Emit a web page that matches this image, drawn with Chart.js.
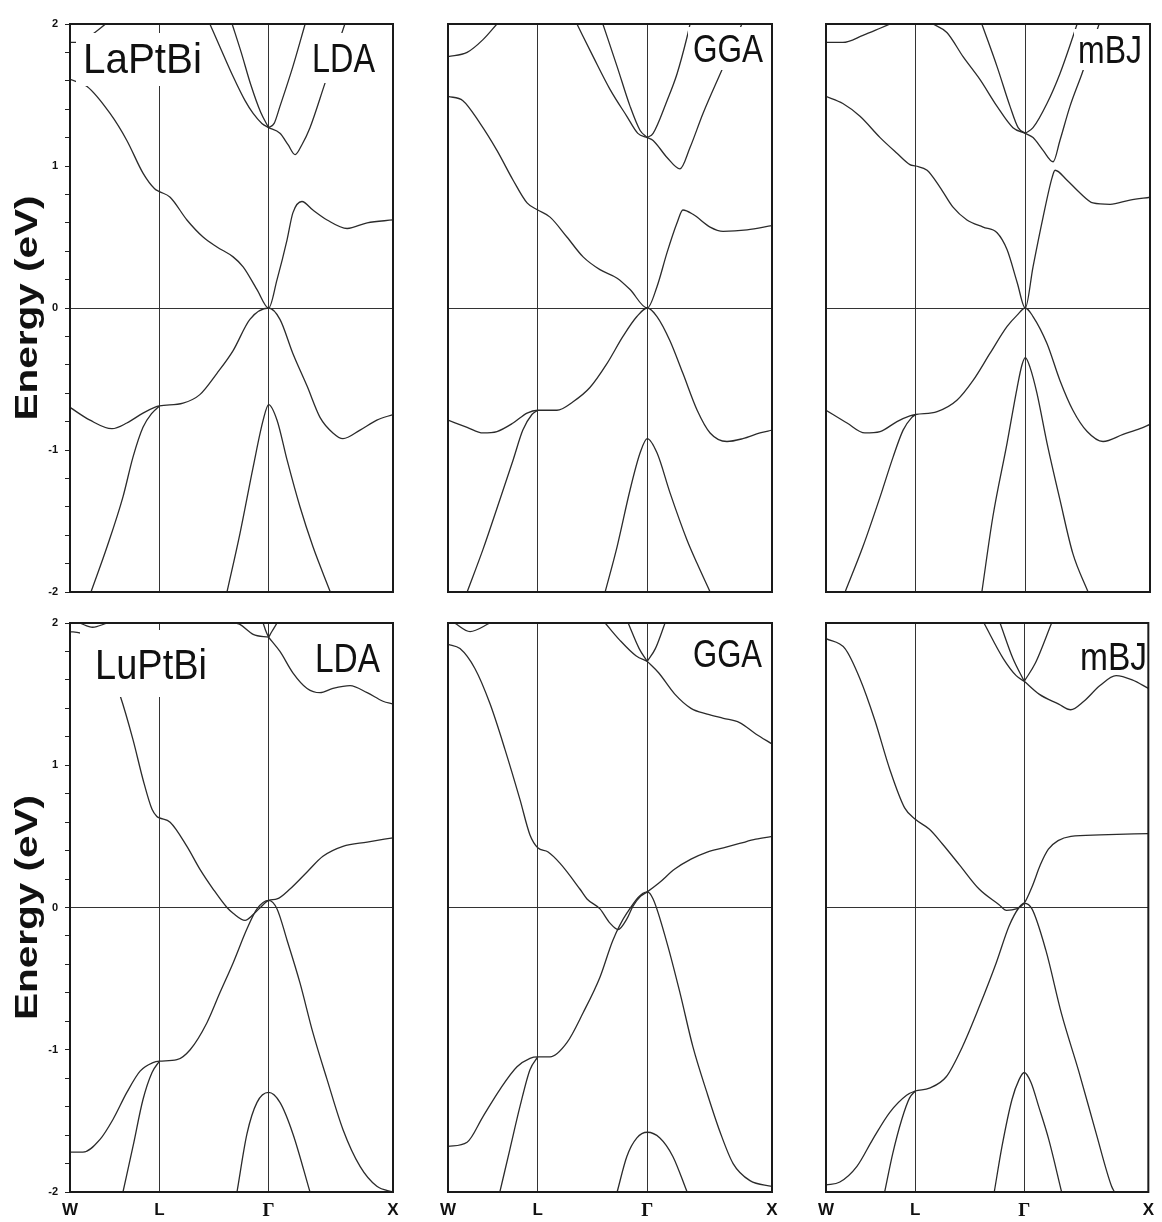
<!DOCTYPE html>
<html>
<head>
<meta charset="utf-8">
<script src="https://cdn.jsdelivr.net/npm/chart.js@4.4.1/dist/chart.umd.min.js"></script>
<style>
  body { margin: 0; background: #fff; }
  #fig { position: relative; width: 1162px; height: 1222px; overflow: hidden; }
  #fig canvas { position: absolute; }
</style>
</head>
<body>
<div id="fig"></div>
<script>
// high-symmetry path W - L - Γ - X (fractional path length)
const K_POINTS = [0, 0.277, 0.615, 1];
const K_LABELS = ['W', 'L', 'Γ', 'X'];

// bands are [k, E(eV)] pairs, Fermi level at 0
const laLda = [
  [[0,1.61],[0.053,1.56],[0.124,1.37],[0.176,1.18],[0.226,0.95],[0.262,0.84],[0.277,0.82],[0.31,0.78],[0.362,0.62],[0.412,0.50],[0.455,0.43],[0.505,0.36],[0.536,0.29],[0.579,0.13],[0.615,0],[0.641,0.2],[0.672,0.48],[0.69,0.67],[0.718,0.75],[0.752,0.69],[0.796,0.62],[0.858,0.56],[0.92,0.6],[1,0.62]],
  [[0,-0.70],[0.062,-0.79],[0.130,-0.85],[0.176,-0.81],[0.226,-0.74],[0.262,-0.70],[0.277,-0.69],[0.350,-0.67],[0.402,-0.61],[0.455,-0.46],[0.505,-0.30],[0.557,-0.08],[0.615,0],[0.65,-0.08],[0.69,-0.32],[0.734,-0.55],[0.774,-0.77],[0.814,-0.88],[0.845,-0.92],[0.898,-0.86],[0.95,-0.79],[1,-0.75]],
  [[0.065,-2.0],[0.115,-1.68],[0.164,-1.33],[0.195,-1.05],[0.226,-0.84],[0.254,-0.74],[0.277,-0.69]],
  [[0.486,-2.0],[0.526,-1.59],[0.567,-1.12],[0.598,-0.79],[0.615,-0.68],[0.641,-0.79],[0.672,-1.07],[0.712,-1.40],[0.752,-1.68],[0.806,-2.0]],
  [[0.433,2.0],[0.464,1.84],[0.505,1.63],[0.542,1.46],[0.567,1.37],[0.594,1.30],[0.615,1.27]],
  [[0.502,2.0],[0.53,1.80],[0.56,1.57],[0.59,1.38],[0.615,1.27]],
  [[0.615,1.27],[0.632,1.30],[0.65,1.42],[0.69,1.70],[0.728,2.0]],
  [[0.615,1.27],[0.65,1.23],[0.675,1.15],[0.697,1.08],[0.718,1.15],[0.743,1.27],[0.789,1.58],[0.851,2.0]],
  [[0,1.87],[0.023,1.87],[0.07,1.93],[0.11,2.0]]
];

const laGga = [
  [[0,1.49],[0.046,1.46],[0.099,1.30],[0.151,1.11],[0.201,0.90],[0.244,0.74],[0.277,0.69],[0.315,0.64],[0.367,0.50],[0.417,0.36],[0.469,0.27],[0.522,0.21],[0.562,0.13],[0.615,0],[0.645,0.15],[0.676,0.39],[0.707,0.60],[0.725,0.69],[0.756,0.66],[0.809,0.57],[0.849,0.54],[0.923,0.55],[1,0.58]],
  [[0,-0.79],[0.059,-0.84],[0.108,-0.88],[0.151,-0.87],[0.201,-0.81],[0.244,-0.74],[0.277,-0.72],[0.336,-0.72],[0.386,-0.66],[0.438,-0.56],[0.491,-0.39],[0.540,-0.20],[0.583,-0.06],[0.615,0],[0.645,-0.06],[0.685,-0.23],[0.725,-0.46],[0.769,-0.72],[0.809,-0.88],[0.861,-0.94],[0.910,-0.92],[0.963,-0.88],[1,-0.86]],
  [[0.059,-2.0],[0.108,-1.70],[0.160,-1.35],[0.201,-1.07],[0.231,-0.86],[0.259,-0.75],[0.277,-0.72]],
  [[0.485,-2.0],[0.522,-1.68],[0.562,-1.28],[0.593,-1.02],[0.615,-0.92],[0.645,-1.02],[0.685,-1.30],[0.737,-1.63],[0.769,-1.80],[0.809,-2.0]],
  [[0.398,2.0],[0.448,1.77],[0.5,1.54],[0.552,1.35],[0.586,1.23],[0.615,1.20]],
  [[0.478,2.0],[0.522,1.70],[0.562,1.42],[0.593,1.25],[0.615,1.20]],
  [[0.615,1.20],[0.633,1.23],[0.676,1.46],[0.707,1.65],[0.738,1.91],[0.747,2.0]],
  [[0.615,1.20],[0.633,1.18],[0.676,1.06],[0.716,0.98],[0.747,1.13],[0.787,1.37],[0.846,1.68],[0.907,2.0]],
  [[0,1.77],[0.059,1.80],[0.108,1.89],[0.151,2.0]]
];

const laMbj = [
  [[0,1.49],[0.052,1.44],[0.105,1.35],[0.167,1.20],[0.219,1.09],[0.259,1.01],[0.277,1.00],[0.312,0.97],[0.352,0.85],[0.392,0.71],[0.435,0.62],[0.485,0.57],[0.528,0.53],[0.559,0.41],[0.590,0.18],[0.615,0],[0.639,0.29],[0.670,0.64],[0.698,0.92],[0.707,0.97],[0.744,0.90],[0.784,0.81],[0.824,0.74],[0.877,0.73],[0.938,0.76],[1,0.78]],
  [[0,-0.72],[0.065,-0.81],[0.120,-0.88],[0.167,-0.87],[0.219,-0.80],[0.259,-0.76],[0.277,-0.75],[0.343,-0.73],[0.404,-0.65],[0.454,-0.51],[0.506,-0.32],[0.559,-0.13],[0.590,-0.05],[0.615,0],[0.639,-0.06],[0.682,-0.25],[0.722,-0.51],[0.762,-0.72],[0.806,-0.87],[0.855,-0.94],[0.917,-0.89],[0.969,-0.85],[1,-0.82]],
  [[0.059,-2.0],[0.114,-1.68],[0.167,-1.33],[0.207,-1.05],[0.238,-0.86],[0.265,-0.77],[0.277,-0.75]],
  [[0.481,-2.0],[0.515,-1.47],[0.559,-0.95],[0.590,-0.56],[0.605,-0.40],[0.615,-0.35],[0.630,-0.42],[0.651,-0.60],[0.682,-0.95],[0.722,-1.35],[0.762,-1.73],[0.809,-2.0]],
  [[0.330,2.0],[0.373,1.94],[0.423,1.77],[0.475,1.61],[0.528,1.42],[0.577,1.27],[0.615,1.23]],
  [[0.481,2.0],[0.528,1.70],[0.568,1.42],[0.593,1.27],[0.615,1.23]],
  [[0.615,1.23],[0.639,1.27],[0.682,1.44],[0.722,1.65],[0.762,1.91],[0.775,2.0]],
  [[0.615,1.23],[0.639,1.20],[0.670,1.11],[0.701,1.03],[0.722,1.18],[0.753,1.42],[0.790,1.65],[0.843,2.0]],
  [[0,1.87],[0.052,1.87],[0.114,1.92],[0.167,1.97],[0.198,2.0]]
];

const luLda = [
  [[0,1.94],[0.03,1.93],[0.07,1.86],[0.11,1.75],[0.155,1.49],[0.195,1.18],[0.226,0.90],[0.254,0.69],[0.269,0.64],[0.277,0.63],[0.31,0.60],[0.362,0.43],[0.402,0.27],[0.443,0.13],[0.486,0.0],[0.505,-0.04],[0.542,-0.09],[0.567,-0.05],[0.598,0.02],[0.615,0.05],[0.641,0.06],[0.681,0.13],[0.734,0.25],[0.783,0.36],[0.845,0.43],[0.920,0.46],[1,0.49]],
  [[0,-1.72],[0.04,-1.72],[0.093,-1.63],[0.133,-1.49],[0.176,-1.30],[0.217,-1.15],[0.257,-1.09],[0.277,-1.08],[0.331,-1.07],[0.372,-1.0],[0.424,-0.81],[0.464,-0.60],[0.505,-0.39],[0.548,-0.15],[0.579,-0.01],[0.615,0.05],[0.641,-0.01],[0.672,-0.23],[0.712,-0.53],[0.752,-0.88],[0.796,-1.21],[0.845,-1.56],[0.898,-1.82],[0.950,-1.96],[1,-2.0]],
  [[0.164,-2.0],[0.195,-1.68],[0.226,-1.35],[0.254,-1.16],[0.277,-1.08]],
  [[0.517,-2.0],[0.548,-1.59],[0.579,-1.37],[0.615,-1.30],[0.65,-1.37],[0.69,-1.59],[0.743,-2.0]],
  [[0.615,1.90],[0.65,1.80],[0.69,1.65],[0.734,1.54],[0.774,1.51],[0.814,1.54],[0.867,1.56],[0.920,1.51],[0.969,1.45],[1,1.43]],
  [[0.511,2.0],[0.526,1.99],[0.567,1.92],[0.615,1.90]],
  [[0.598,2.0],[0.607,1.94],[0.615,1.90]],
  [[0.615,1.90],[0.625,1.94],[0.641,2.0]],
  [[0.03,2.0],[0.07,1.97],[0.115,2.0]]
];

const luGga = [
  [[0,1.85],[0.037,1.82],[0.083,1.68],[0.130,1.43],[0.176,1.11],[0.222,0.76],[0.253,0.51],[0.277,0.42],[0.309,0.39],[0.346,0.31],[0.407,0.13],[0.429,0.06],[0.469,-0.01],[0.5,-0.11],[0.525,-0.155],[0.552,-0.08],[0.571,0.01],[0.595,0.08],[0.615,0.11],[0.65,0.17],[0.70,0.27],[0.75,0.34],[0.80,0.39],[0.85,0.42],[0.90,0.45],[0.95,0.48],[1,0.50]],
  [[0,-1.68],[0.059,-1.65],[0.108,-1.47],[0.160,-1.28],[0.213,-1.12],[0.253,-1.06],[0.277,-1.05],[0.315,-1.05],[0.367,-0.95],[0.417,-0.74],[0.469,-0.49],[0.509,-0.23],[0.552,-0.04],[0.615,0.11],[0.633,0.06],[0.676,-0.25],[0.716,-0.60],[0.756,-0.98],[0.799,-1.30],[0.840,-1.58],[0.880,-1.80],[0.932,-1.92],[1,-1.96]],
  [[0.160,-2.0],[0.191,-1.70],[0.222,-1.40],[0.253,-1.14],[0.277,-1.05]],
  [[0.522,-2.0],[0.552,-1.75],[0.583,-1.62],[0.615,-1.58],[0.654,-1.62],[0.694,-1.75],[0.738,-2.0]],
  [[0.615,1.73],[0.65,1.65],[0.70,1.50],[0.75,1.40],[0.80,1.36],[0.85,1.33],[0.90,1.30],[0.95,1.22],[1,1.15]],
  [[0.485,2.0],[0.53,1.88],[0.58,1.77],[0.615,1.73]],
  [[0.556,2.0],[0.59,1.82],[0.615,1.73]],
  [[0.615,1.73],[0.64,1.82],[0.67,2.0]],
  [[0.02,2.0],[0.068,1.94],[0.13,2.0]]
];

const luMbj = [
  [[0,1.89],[0.059,1.82],[0.105,1.61],[0.151,1.32],[0.198,0.97],[0.244,0.70],[0.277,0.62],[0.321,0.55],[0.36,0.45],[0.414,0.30],[0.475,0.13],[0.537,0.02],[0.56,-0.02],[0.59,-0.01],[0.615,0.03],[0.64,0.15],[0.665,0.30],[0.69,0.41],[0.72,0.47],[0.76,0.50],[0.85,0.51],[1,0.52]],
  [[0,-1.95],[0.043,-1.93],[0.096,-1.82],[0.145,-1.63],[0.198,-1.44],[0.25,-1.32],[0.277,-1.29],[0.321,-1.27],[0.373,-1.19],[0.423,-0.98],[0.475,-0.70],[0.528,-0.39],[0.568,-0.13],[0.599,0.0],[0.615,0.03],[0.639,-0.01],[0.682,-0.30],[0.731,-0.75],[0.784,-1.15],[0.836,-1.57],[0.886,-1.96],[0.895,-2.0]],
  [[0.182,-2.0],[0.207,-1.73],[0.235,-1.49],[0.259,-1.34],[0.277,-1.29]],
  [[0.522,-2.0],[0.546,-1.68],[0.577,-1.35],[0.599,-1.21],[0.615,-1.16],[0.636,-1.23],[0.66,-1.40],[0.691,-1.63],[0.731,-2.0]],
  [[0.615,1.59],[0.661,1.50],[0.722,1.43],[0.759,1.39],[0.80,1.45],[0.85,1.56],[0.90,1.63],[0.95,1.60],[1,1.54]],
  [[0.49,2.0],[0.55,1.75],[0.59,1.63],[0.615,1.59]],
  [[0.54,2.0],[0.58,1.75],[0.615,1.59]],
  [[0.615,1.59],[0.65,1.72],[0.70,2.0]]
];

const SANS = '"Liberation Sans", Arial, sans-serif';

// panel layout: canvas box, padding around the plot area, in-plot captions
const PANELS = [
  { bands: laLda, left: 0,   top: 0,   w: 420, h: 612, pad: { left: 0,  right: 27, top: 24, bottom: 0 }, yAxis: true,  xLabels: false,
    notes: [{ text: 'LaPtBi', dx: 13, dy: 49, size: 43, width: 119, box: [6, 9, 135, 62] },
            { text: 'LDA', dx: 242, dy: 48, size: 40, width: 63, box: [238, 9, 320, 59] }] },
  { bands: laGga, left: 420, top: 0,   w: 380, h: 612, pad: { left: 28, right: 28, top: 24, bottom: 0 }, yAxis: false, xLabels: false,
    notes: [{ text: 'GGA', dx: 245, dy: 38, size: 38, width: 70, box: [240, 3, 322, 46] }] },
  { bands: laMbj, left: 800, top: 0,   w: 362, h: 612, pad: { left: 26, right: 12, top: 24, bottom: 0 }, yAxis: false, xLabels: false,
    notes: [{ text: 'mBJ', dx: 252, dy: 39, size: 39, width: 64, box: [248, 5, 322, 46] }] },
  { bands: luLda, left: 0,   top: 600, w: 420, h: 622, pad: { left: 0,  right: 27, top: 23, bottom: 0 }, yAxis: true,  xLabels: true,
    notes: [{ text: 'LuPtBi', dx: 25, dy: 56, size: 43, width: 112, box: [10, 7, 145, 74] },
            { text: 'LDA', dx: 245, dy: 49, size: 40, width: 65, box: [241, 11, 318, 56] }] },
  { bands: luGga, left: 420, top: 600, w: 380, h: 622, pad: { left: 28, right: 28, top: 23, bottom: 0 }, yAxis: false, xLabels: true,
    notes: [{ text: 'GGA', dx: 245, dy: 44, size: 38, width: 69, box: [240, 10, 320, 53] }] },
  { bands: luMbj, left: 800, top: 600, w: 362, h: 622, pad: { left: 26, right: 12, top: 23, bottom: 0 }, yAxis: false, xLabels: true,
    notes: [{ text: 'mBJ', dx: 254, dy: 47, size: 39, width: 67, box: [250, 10, 323, 51] }] }
];

// thick box around the plot area
const frame = {
  id: 'frame',
  afterDraw(chart) {
    const { ctx, chartArea: a } = chart;
    ctx.save();
    ctx.strokeStyle = '#1a1a1a';
    ctx.lineWidth = 2;
    ctx.strokeRect(a.left, a.top, a.right - a.left, a.bottom - a.top);
    ctx.restore();
  }
};

// draws text squeezed/stretched to a given width
function fitText(ctx, text, x, y, width, angle) {
  const natural = ctx.measureText(text).width;
  ctx.save();
  ctx.translate(x, y);
  if (angle) ctx.rotate(angle);
  ctx.scale(width / natural, 1);
  ctx.fillText(text, 0, 0);
  ctx.restore();
}

// compound / method captions on white patches, plus the energy axis title
function captions(p, n) {
  return {
    id: 'captions' + n,
    afterDatasetsDraw(chart) {
      const { ctx, chartArea: a } = chart;
      ctx.save();
      p.notes.forEach(t => {
        ctx.fillStyle = '#fff';
        ctx.fillRect(a.left + t.box[0], a.top + t.box[1], t.box[2] - t.box[0], t.box[3] - t.box[1]);
        ctx.fillStyle = '#111';
        ctx.font = t.size + 'px ' + SANS;
        ctx.textBaseline = 'alphabetic';
        ctx.textAlign = 'left';
        fitText(ctx, t.text, a.left + t.dx, a.top + t.dy, t.width);
      });
      if (p.yAxis) {
        ctx.fillStyle = '#111';
        ctx.font = 'bold 31px ' + SANS;
        ctx.textAlign = 'center';
        ctx.textBaseline = 'alphabetic';
        fitText(ctx, 'Energy (eV)', 37, (a.top + a.bottom) / 2, 225, -Math.PI / 2);
      }
      ctx.restore();
    }
  };
}

const fig = document.getElementById('fig');

PANELS.forEach((p, n) => {
  const canvas = document.createElement('canvas');
  canvas.width = p.w;
  canvas.height = p.h;
  canvas.style.left = p.left + 'px';
  canvas.style.top = p.top + 'px';
  fig.appendChild(canvas);

  new Chart(canvas, {
    type: 'line',
    data: {
      datasets: p.bands.map(b => ({
        data: b.map(([k, e]) => ({ x: k, y: e })),
        borderColor: '#2b2b2b',
        borderWidth: 1.3,
        pointRadius: 0,
        fill: false,
        cubicInterpolationMode: 'monotone'
      }))
    },
    options: {
      responsive: false,
      animation: false,
      events: [],
      layout: { padding: p.pad },
      plugins: { legend: { display: false }, tooltip: { enabled: false } },
      scales: {
        x: {
          type: 'linear',
          min: 0,
          max: 1,
          afterBuildTicks: s => { s.ticks = K_POINTS.map(v => ({ value: v })); },
          afterFit: s => { s.height = p.xLabels ? 30 : 20; },
          border: { display: false },
          grid: { color: '#333', lineWidth: 1, drawTicks: false },
          ticks: {
            display: p.xLabels,
            autoSkip: false,
            maxRotation: 0,
            padding: 8,
            color: '#111',
            callback: (v, i) => K_LABELS[i],
            font: c => (c.index === 2
              ? { family: '"Liberation Serif", "Times New Roman", serif', size: 19, weight: 'bold' }
              : { family: SANS, size: 17, weight: 'bold' })
          }
        },
        y: {
          type: 'linear',
          min: -2,
          max: 2,
          afterFit: s => { s.width = p.yAxis ? 70 : 0; },
          border: { display: false },
          grid: {
            color: c => (Math.abs(c.tick.value) < 1e-6 ? '#333' : 'rgba(0,0,0,0)'),
            lineWidth: 1,
            drawTicks: p.yAxis,
            tickLength: 5,
            tickColor: '#222'
          },
          ticks: {
            display: p.yAxis,
            stepSize: 0.2,
            autoSkip: false,
            padding: 7,
            color: '#111',
            font: { family: SANS, size: 11, weight: 'bold' },
            callback: v => (Math.abs(v - Math.round(v)) < 1e-6 ? String(Math.round(v)) : '')
          }
        }
      }
    },
    plugins: [captions(p, n), frame]
  });
});
</script>
</body>
</html>
